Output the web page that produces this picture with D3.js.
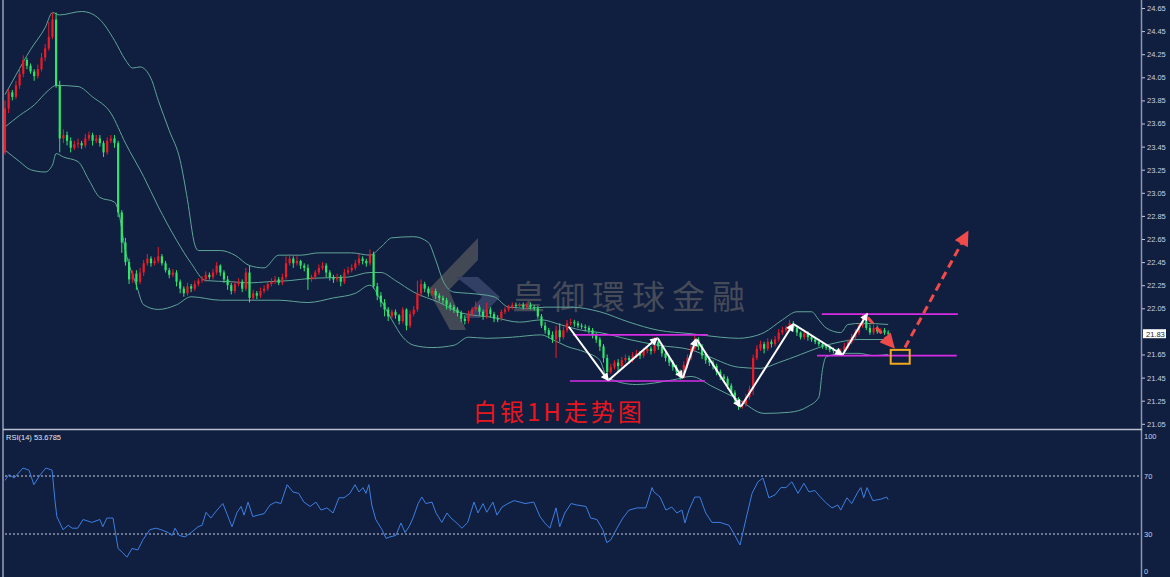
<!DOCTYPE html>
<html>
<head>
<meta charset="utf-8">
<script src="https://cdn.jsdelivr.net/npm/d3@7"></script>
<style>
html, body { margin: 0; padding: 0; background: #101e40; }
svg { display: block; }
</style>
</head>
<body>
<svg id="chart" width="1170" height="577"></svg>
<script>
// hourly silver candles (red = up, green = down)
var opens = [
23.40,23.78,23.92,23.88,23.98,24.08,24.20,24.15,24.10,24.06,
24.12,24.22,24.30,24.40,24.55,23.98,23.52,23.55,23.50,23.44,
23.47,23.48,23.46,23.52,23.55,23.50,23.52,23.48,23.40,23.50,
23.52,23.48,22.88,22.62,22.45,22.30,22.35,22.28,22.36,22.44,
22.48,22.44,22.46,22.50,22.44,22.38,22.34,22.36,22.28,22.22,
22.18,22.24,22.22,22.26,22.29,22.30,22.34,22.32,22.36,22.42,
22.36,22.30,22.25,22.20,22.26,22.28,22.22,22.36,22.14,22.18,
22.16,22.20,22.22,22.26,22.28,22.30,22.27,22.32,22.44,22.48,
22.44,22.46,22.42,22.40,22.30,22.32,22.36,22.40,22.42,22.36,
22.32,22.30,22.32,22.28,22.36,22.38,22.40,22.44,22.48,22.46,
22.44,22.52,22.24,22.16,22.10,22.04,21.98,22.02,21.99,21.94,
22.04,21.90,22.00,22.04,22.18,22.26,22.22,22.18,22.20,22.16,
22.14,22.12,22.08,22.06,22.04,22.01,21.96,21.94,22.00,22.04,
22.06,22.02,21.98,22.04,22.00,21.96,21.96,22.02,22.04,22.06,
22.08,22.07,22.08,22.06,22.08,22.06,22.05,21.98,21.90,21.86,
21.82,21.78,21.86,21.80,21.86,21.92,21.93,21.92,21.90,21.89,
21.88,21.86,21.82,21.78,21.72,21.62,21.50,21.54,21.58,21.55,
21.60,21.62,21.60,21.64,21.66,21.64,21.68,21.70,21.68,21.76,
21.72,21.66,21.62,21.58,21.54,21.50,21.46,21.56,21.62,21.70,
21.78,21.72,21.64,21.60,21.58,21.55,21.50,21.46,21.44,21.38,
21.32,21.26,21.20,21.22,21.28,21.35,21.62,21.70,21.74,21.70,
21.76,21.74,21.78,21.84,21.86,21.88,21.92,21.88,21.84,21.80,
21.83,21.80,21.78,21.76,21.74,21.72,21.71,21.69,21.68,21.66,
21.68,21.72,21.76,21.80,21.84,21.90,21.94,21.88,21.84,21.88,
21.85,21.86,21.84];
var closes = [
23.78,23.92,23.88,23.98,24.08,24.20,24.15,24.10,24.06,24.12,
24.22,24.30,24.40,24.55,23.98,23.52,23.55,23.50,23.44,23.47,
23.48,23.46,23.52,23.55,23.50,23.52,23.48,23.40,23.50,23.52,
23.48,22.88,22.62,22.45,22.30,22.35,22.28,22.36,22.44,22.48,
22.44,22.46,22.50,22.44,22.38,22.34,22.36,22.28,22.22,22.18,
22.24,22.22,22.26,22.29,22.30,22.34,22.32,22.36,22.42,22.36,
22.30,22.25,22.20,22.26,22.28,22.22,22.36,22.14,22.18,22.16,
22.20,22.22,22.26,22.28,22.30,22.27,22.32,22.44,22.48,22.44,
22.46,22.42,22.40,22.30,22.32,22.36,22.40,22.42,22.36,22.32,
22.30,22.32,22.28,22.36,22.38,22.40,22.44,22.48,22.46,22.44,
22.52,22.24,22.16,22.10,22.04,21.98,22.02,21.99,21.94,22.04,
21.90,22.00,22.04,22.18,22.26,22.22,22.18,22.20,22.16,22.14,
22.12,22.08,22.06,22.04,22.01,21.96,21.94,22.00,22.04,22.06,
22.02,21.98,22.04,22.00,21.96,21.96,22.02,22.04,22.06,22.08,
22.07,22.08,22.06,22.08,22.06,22.05,21.98,21.90,21.86,21.82,
21.78,21.86,21.80,21.86,21.92,21.93,21.92,21.90,21.89,21.88,
21.86,21.82,21.78,21.72,21.62,21.50,21.54,21.58,21.55,21.60,
21.62,21.60,21.64,21.66,21.64,21.68,21.70,21.68,21.76,21.72,
21.66,21.62,21.58,21.54,21.50,21.46,21.56,21.62,21.70,21.78,
21.72,21.64,21.60,21.58,21.55,21.50,21.46,21.44,21.38,21.32,
21.26,21.20,21.22,21.28,21.35,21.62,21.70,21.74,21.70,21.76,
21.74,21.78,21.84,21.86,21.88,21.92,21.88,21.84,21.80,21.83,
21.80,21.78,21.76,21.74,21.72,21.71,21.69,21.68,21.66,21.68,
21.72,21.76,21.80,21.84,21.90,21.94,21.88,21.84,21.88,21.85,
21.86,21.84,21.83];
var highs = [
23.85,23.95,23.94,24.02,24.12,24.24,24.22,24.17,24.12,24.16,
24.26,24.34,24.53,24.61,24.61,24.02,23.60,23.58,23.53,23.50,
23.52,23.50,23.56,23.58,23.57,23.55,23.55,23.50,23.53,23.55,
23.55,23.50,22.90,22.66,22.48,22.38,22.38,22.40,22.47,22.52,
22.50,22.49,22.58,22.52,22.46,22.40,22.39,22.38,22.30,22.24,
22.27,22.26,22.29,22.31,22.33,22.37,22.36,22.39,22.45,22.43,
22.38,22.33,22.27,22.28,22.31,22.30,22.40,22.42,22.21,22.20,
22.23,22.25,22.28,22.31,22.33,22.32,22.35,22.50,22.52,22.50,
22.50,22.47,22.44,22.43,22.34,22.38,22.43,22.45,22.44,22.38,
22.34,22.35,22.34,22.39,22.41,22.43,22.47,22.52,22.50,22.48,
22.56,22.54,22.27,22.19,22.13,22.06,22.04,22.04,22.00,22.06,
22.05,22.03,22.07,22.29,22.30,22.28,22.24,22.23,22.22,22.18,
22.16,22.14,22.10,22.08,22.06,22.03,21.99,22.03,22.06,22.11,
22.08,22.04,22.10,22.06,22.02,21.99,22.04,22.06,22.08,22.10,
22.10,22.10,22.10,22.10,22.10,22.08,22.07,22.00,21.93,21.88,
21.85,21.90,21.92,21.89,21.95,21.96,21.95,21.94,21.92,21.91,
21.90,21.88,21.84,21.80,21.74,21.65,21.57,21.60,21.61,21.63,
21.65,21.64,21.67,21.69,21.68,21.71,21.73,21.72,21.80,21.78,
21.74,21.68,21.64,21.60,21.56,21.52,21.59,21.65,21.73,21.82,
21.80,21.74,21.66,21.62,21.60,21.57,21.52,21.48,21.46,21.40,
21.34,21.28,21.25,21.31,21.38,21.65,21.73,21.77,21.76,21.79,
21.78,21.81,21.87,21.89,21.90,21.95,21.94,21.90,21.85,21.85,
21.85,21.82,21.80,21.78,21.76,21.74,21.73,21.71,21.70,21.70,
21.75,21.78,21.83,21.87,21.92,21.99,21.97,21.91,21.91,21.90,
21.88,21.88,21.86];
var lows = [
23.38,23.74,23.85,23.86,23.95,24.05,24.12,24.08,24.02,24.04,
24.10,24.19,24.28,24.38,23.96,23.40,23.48,23.46,23.40,23.42,
23.44,23.43,23.44,23.50,23.46,23.48,23.45,23.36,23.38,23.48,
23.44,22.84,22.53,22.42,22.26,22.27,22.21,22.26,22.33,22.42,
22.41,22.42,22.44,22.42,22.36,22.31,22.32,22.24,22.18,22.15,
22.16,22.19,22.20,22.24,22.27,22.28,22.30,22.30,22.34,22.33,
22.27,22.21,22.17,22.18,22.24,22.19,22.20,22.10,22.12,22.13,
22.14,22.18,22.20,22.24,22.26,22.25,22.25,22.30,22.42,22.40,
22.42,22.39,22.37,22.21,22.28,22.30,22.34,22.38,22.32,22.29,
22.27,22.28,22.24,22.26,22.34,22.36,22.38,22.42,22.43,22.41,
22.42,22.22,22.12,22.06,21.98,21.94,21.96,21.96,21.91,21.92,
21.86,21.88,21.98,22.02,22.15,22.19,22.15,22.16,22.13,22.11,
22.09,22.04,22.03,22.01,21.98,21.93,21.91,21.92,21.98,22.02,
21.99,21.95,21.96,21.97,21.93,21.93,21.94,22.00,22.02,22.04,
22.05,22.05,22.04,22.04,22.04,22.03,21.96,21.88,21.83,21.79,
21.75,21.62,21.76,21.78,21.84,21.90,21.89,21.88,21.87,21.85,
21.83,21.79,21.75,21.68,21.58,21.43,21.48,21.52,21.50,21.53,
21.58,21.57,21.58,21.62,21.61,21.62,21.66,21.65,21.66,21.69,
21.63,21.59,21.55,21.51,21.47,21.43,21.44,21.53,21.60,21.68,
21.69,21.61,21.57,21.55,21.52,21.47,21.43,21.41,21.35,21.29,
21.23,21.17,21.18,21.20,21.26,21.30,21.60,21.68,21.66,21.68,
21.71,21.72,21.76,21.82,21.84,21.86,21.85,21.81,21.78,21.78,
21.77,21.76,21.74,21.72,21.70,21.69,21.67,21.66,21.64,21.64,
21.66,21.70,21.74,21.78,21.82,21.88,21.86,21.82,21.82,21.83,
21.83,21.82,21.81];

// Bollinger bands, sampled along the bar axis
var upBars = [0,3,7,11,13,15,21,23,26,30,33,35,37,40,42,45,48,50,52,53,59,63,67,71,75,81,86,95,100,103,106,112,116,118,120,123,127,134,138,144,148,155,163,171,179,188,196,201,204,208,213,217,221,223,225,229,231,235,242];
var upVals = [23.90,24.07,24.29,24.48,24.61,24.59,24.62,24.61,24.55,24.37,24.20,24.13,24.14,24.04,23.85,23.59,23.33,22.99,22.60,22.55,22.55,22.51,22.42,22.40,22.51,22.51,22.53,22.53,22.51,22.58,22.66,22.67,22.62,22.47,22.29,22.19,22.18,22.15,22.06,22.05,22.06,22.06,22.02,21.93,21.86,21.83,21.80,21.79,21.80,21.84,21.95,22.02,22.02,21.95,21.88,21.84,21.91,21.92,21.91];
var midBars = [0,4,8,12,14,20,24,29,33,38,42,47,51,55,62,67,72,78,84,94,100,103,107,112,119,125,134,141,147,152,158,163,171,179,188,193,201,207,212,218,223,229,234,242];
var midVals = [23.62,23.72,23.81,23.94,23.98,23.97,23.88,23.74,23.48,23.19,22.93,22.64,22.44,22.29,22.28,22.27,22.28,22.29,22.31,22.32,22.36,22.36,22.29,22.19,22.10,22.01,21.97,21.93,21.95,21.91,21.86,21.84,21.78,21.73,21.69,21.63,21.54,21.53,21.58,21.65,21.71,21.76,21.78,21.78];
var lowBars = [0,4,7,11,13,14,16,20,23,26,30,31,33,36,38,42,47,51,59,67,75,83,90,96,100,103,106,109,112,117,123,127,132,139,147,150,154,159,163,165,173,183,188,194,201,208,215,220,223,224,225,230,234,238,242];
var lowVals = [23.42,23.32,23.25,23.23,23.29,23.39,23.36,23.32,23.16,23.01,22.97,22.90,22.55,22.25,22.08,22.04,22.08,22.15,22.12,22.12,22.12,22.10,22.14,22.18,22.25,22.12,21.95,21.80,21.73,21.71,21.73,21.80,21.79,21.80,21.82,21.78,21.72,21.67,21.60,21.45,21.39,21.43,21.46,21.37,21.26,21.14,21.15,21.20,21.28,21.52,21.63,21.66,21.66,21.64,21.65];

// RSI(14)
var rsiBars = [0,1.1,2.5,4.9,6.6,7.9,9.6,11.2,12.9,13.7,14.2,15.9,17.3,18.4,19.9,21.4,23.8,26,26.8,27.9,
29.6,31,32.3,33.4,34.8,36.4,37.8,39.7,41.4,42.7,44.7,45.8,46.6,47.7,49.3,51,52.9,54,55.1,56.4,
58.1,59.7,60.8,62.2,63.6,64.7,65.5,66.6,67.9,69.3,71,72.6,74.2,75.6,77.3,78.9,80.5,81.9,83.6,85.2,
86.6,88.2,89.9,91.5,92.9,94.5,95.9,97,98.1,98.9,99.7,100.5,101.6,103.3,104.4,105.5,107.1,108.5,109.6,110.7,
111.8,113.2,114.2,115.3,117,118.1,119.7,121.1,122.2,123.6,125.2,126.8,128.5,129.6,131,132,133.7,134.8,136.2,137.8,
139.5,141.1,142.5,144.9,146.6,147.9,149.3,151,152,153.4,155.1,156.7,159.2,160.5,162.2,163.8,164.9,166,167.7,169.3,
171,173.2,175.6,177.3,177.8,179.5,181.1,182.7,184.1,185.5,186.3,187.4,189,190.4,192,193.7,195.9,198.4,200,201.4,
203,204.7,206.3,207.7,209.3,211,212.6,214,215.6,217.3,218.9,220.3,221.9,223.6,225.2,226.6,228.2,229,230.7,232,
233.7,234.5,235.3,236.2,237.8,240,241.6,242];
var rsiVals = [67,71,68.6,75.5,74,64,70.7,75.5,74,53,42,33,36,34,34,40,38,40,35,41,
41,20,17,14,20,19,26,33,34,33,31,29,34,29,28,31,35,36,45,41,
46.5,51,44,35,45,49,43,52,42,43,44,50,52,51,64,59,58,52,49,52,
46.5,48,44.5,55,55,58,64,59,62,58,64,50,40,33,27,28,29,37.6,31,35,
41,51,55.5,51,52,44.5,38,44.5,41,38,34,38,52,44.5,51,45,52,43,48.6,51,
53,52,51,52,42,37.6,34,48,35,44.5,51,50,49,41,40,33,24,26,34,41,
46.5,48,48,62,59,55.5,46.5,48.6,44.5,46.5,37.6,46.5,55.5,55.5,44.5,38,38,36,29,22.4,
40,58,66,68.6,55,57,62,62,66,58,65,59,60,55,51,48,50,46.5,55,51,
59,62,55,62,53,54,55.5,53.6785];

var priceTicks = [24.65,24.45,24.25,24.05,23.85,23.65,23.45,23.25,23.05,22.85,22.65,22.45,22.25,22.05,21.65,21.45,21.25,21.05];
var rsiTicks = [100,70,30,0];
var lastPrice = 21.83;

// annotations (bar, price)
var waveBars = [154.2,165.2,178.6,185.5,189.3,201.4,215.9,229.3,236.2];
var wavePrices = [21.89,21.43,21.79,21.45,21.78,21.20,21.91,21.65,22.00];
var rangeLevels = [21.82,21.42,22.00,21.64];
var rangeFrom = [155.6,154.8,223.8,222.5];
var rangeTo = [192.6,191.8,261.1,260.8];
var predFromBars = [236.4,246.6], predFromPrices = [21.97,21.71];
var predToBars = [243.3,263.6], predToPrices = [21.72,22.70];
var zoneBars = [242.7,247.9], zonePrices = [21.69,21.57];

var W = 1170, H = 577;
var bg = "#101e40";
var upCol = "#ec1c24", downCol = "#2fe56a";

var svg = d3.select("#chart");
svg.append("rect").attr("width", W).attr("height", H).attr("fill", bg);

var x = d3.scaleLinear().domain([0, 311]).range([5, 1140]);
var y = d3.scaleLinear().domain([21.05, 24.65]).range([423.8, 8]);
var yr = d3.scaleLinear().domain([0, 100]).range([577.5, 432.5]);

var defs = svg.append("defs");
defs.append("clipPath").attr("id", "mainclip")
  .append("rect").attr("x", 4).attr("y", 0).attr("width", 1137).attr("height", 428);
defs.append("clipPath").attr("id", "rsiclip")
  .append("rect").attr("x", 4).attr("y", 432).attr("width", 1137).attr("height", 145);

function marker(id, color, w, h) {
  defs.append("marker").attr("id", id)
    .attr("viewBox", "0 0 10 10").attr("refX", 8).attr("refY", 5)
    .attr("markerUnits", "userSpaceOnUse")
    .attr("markerWidth", w).attr("markerHeight", h)
    .attr("orient", "auto")
    .append("path").attr("d", "M0,0 L10,5 L0,10 z").attr("fill", color);
}
marker("wa", "#ffffff", 9, 8);
marker("ra", "#ef4b4b", 17, 15);

// watermark
var wm = svg.append("g").attr("opacity", 0.75);
wm.append("polygon").attr("points", "478,238 478,260 449,290 466,330 450,330 428,290")
  .attr("fill", "#55565c");
wm.append("polygon").attr("points", "456,277 478,277 500,297 480,318 464,318 482,297")
  .attr("fill", "#3d4c70");
svg.append("text").attr("x", 512).attr("y", 309)
  .attr("font-family", "'Noto Sans CJK TC','Noto Sans CJK SC',sans-serif")
  .attr("font-size", 33).attr("letter-spacing", 7)
  .attr("fill", "#464b58").text("皇御環球金融");

var main = svg.append("g").attr("clip-path", "url(#mainclip)");

// bands
function band(bars, vals) {
  var line = d3.line().x(function (d, i) { return x(bars[i]); })
    .y(function (d) { return y(d); }).curve(d3.curveMonotoneX);
  main.append("path").attr("d", line(vals)).attr("fill", "none")
    .attr("stroke", "#5fa597").attr("stroke-width", 1);
}
band(upBars, upVals);
band(midBars, midVals);
band(lowBars, lowVals);

// candles
var idx = d3.range(closes.length);
var cg = main.append("g");
cg.selectAll("line").data(idx).enter().append("line")
  .attr("x1", function (i) { return x(i); }).attr("x2", function (i) { return x(i); })
  .attr("y1", function (i) { return y(Math.max(highs[i], opens[i], closes[i])); })
  .attr("y2", function (i) { return y(Math.min(lows[i], opens[i], closes[i])); })
  .attr("stroke", function (i) { return closes[i] > opens[i] ? upCol : downCol; })
  .attr("stroke-width", 1);
cg.selectAll("rect").data(idx).enter().append("rect")
  .attr("x", function (i) { return x(i) - 1.1; })
  .attr("width", 2.2)
  .attr("y", function (i) { return y(Math.max(opens[i], closes[i])); })
  .attr("height", function (i) { return Math.max(1, Math.abs(y(opens[i]) - y(closes[i]))); })
  .attr("fill", function (i) { return closes[i] > opens[i] ? upCol : downCol; });

// range lines
rangeLevels.forEach(function (p, k) {
  main.append("line").attr("x1", x(rangeFrom[k])).attr("x2", x(rangeTo[k]))
    .attr("y1", y(p)).attr("y2", y(p))
    .attr("stroke", "#d62ce6").attr("stroke-width", 1.6);
});

// white wave arrows
for (var k = 0; k < waveBars.length - 1; k++) {
  main.append("line")
    .attr("x1", x(waveBars[k]) + 1).attr("y1", y(wavePrices[k]))
    .attr("x2", x(waveBars[k + 1])).attr("y2", y(wavePrices[k + 1]))
    .attr("stroke", "#ffffff").attr("stroke-width", 2)
    .attr("marker-end", "url(#wa)");
}

// forecast arrows
for (var j = 0; j < predFromBars.length; j++) {
  main.append("line")
    .attr("x1", x(predFromBars[j])).attr("y1", y(predFromPrices[j]))
    .attr("x2", x(predToBars[j])).attr("y2", y(predToPrices[j]))
    .attr("stroke", "#ef4b4b").attr("stroke-width", 3)
    .attr("stroke-dasharray", "8,5")
    .attr("marker-end", "url(#ra)");
}
main.append("rect")
  .attr("x", x(zoneBars[0])).attr("y", y(zonePrices[0]))
  .attr("width", x(zoneBars[1]) - x(zoneBars[0]))
  .attr("height", y(zonePrices[1]) - y(zonePrices[0]))
  .attr("fill", "none").attr("stroke", "#f2a91c").attr("stroke-width", 2);

// title
svg.append("text").attr("x", 473).attr("y", 421)
  .attr("font-family", "'Noto Sans CJK SC',sans-serif")
  .attr("font-size", 24).attr("letter-spacing", 3)
  .attr("fill", "#e8161e").text("白银1H走势图");

// RSI panel
var rg = svg.append("g").attr("clip-path", "url(#rsiclip)");
[70, 30].forEach(function (v) {
  rg.append("line").attr("x1", 5).attr("x2", 1140)
    .attr("y1", yr(v)).attr("y2", yr(v))
    .attr("stroke", "#c8cfe4").attr("stroke-width", 1).attr("stroke-dasharray", "2,2");
});
var rline = d3.line().x(function (d, i) { return x(rsiBars[i]); }).y(function (d) { return yr(d); });
rg.append("path").attr("d", rline(rsiVals)).attr("fill", "none")
  .attr("stroke", "#3d7fe0").attr("stroke-width", 1);
svg.append("text").attr("x", 6).attr("y", 440)
  .attr("font-family", "'Liberation Sans',sans-serif").attr("font-size", 7.5)
  .attr("fill", "#e4e8f2").text("RSI(14) " + rsiVals[rsiVals.length - 1].toFixed(4));

// frame
svg.append("line").attr("x1", 3).attr("x2", 3).attr("y1", 0).attr("y2", H)
  .attr("stroke", "#98a0b2").attr("stroke-width", 1.5);
svg.append("line").attr("x1", 1141.5).attr("x2", 1141.5).attr("y1", 0).attr("y2", H)
  .attr("stroke", "#8e96aa").attr("stroke-width", 1.5);
svg.append("line").attr("x1", 3).attr("x2", 1142).attr("y1", 429.5).attr("y2", 429.5)
  .attr("stroke", "#b8bfd0").attr("stroke-width", 1.5);

// axes
var ax = svg.append("g").attr("transform", "translate(1142,0)")
  .call(d3.axisRight(y).tickValues(priceTicks).tickSize(3).tickPadding(2).tickFormat(d3.format(".2f")));
var rax = svg.append("g").attr("transform", "translate(1142,0)")
  .call(d3.axisRight(yr).tickValues(rsiTicks).tickSize(0).tickPadding(2).tickFormat(d3.format("d")));
[ax, rax].forEach(function (a) {
  a.select(".domain").remove();
  a.selectAll(".tick line").attr("stroke", "#c0c6d8");
  a.selectAll(".tick text").attr("fill", "#c8d0e6")
    .attr("font-family", "'Liberation Sans',sans-serif").attr("font-size", 7.5);
});
rax.selectAll(".tick text").attr("dy", function (d) { return d === 100 ? "0.75em" : d === 0 ? "-0.55em" : "0.32em"; });

// last price tag
var tag = svg.append("g").attr("transform", "translate(1143," + y(lastPrice) + ")");
tag.append("rect").attr("x", 0).attr("y", -4.5).attr("width", 23).attr("height", 9).attr("fill", "#ffffff");
tag.append("text").attr("x", 3).attr("y", 3)
  .attr("font-family", "'Liberation Sans',sans-serif").attr("font-size", 7.5)
  .attr("fill", bg).text(lastPrice.toFixed(2));
</script>
</body>
</html>
